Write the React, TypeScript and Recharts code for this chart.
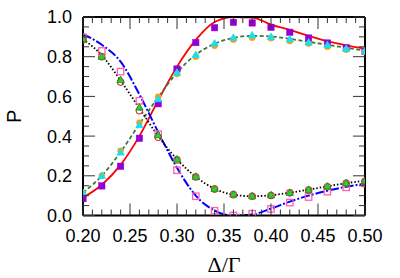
import { ComposedChart, Line, Scatter, XAxis, YAxis } from "recharts";

// detuning grid (Δ/Γ)
const xs = [0.2, 0.22, 0.24, 0.26, 0.28, 0.3, 0.32, 0.34, 0.36, 0.38, 0.4, 0.42, 0.44, 0.46, 0.48, 0.5];

// curves
const redLine = [0.09, 0.155, 0.255, 0.4, 0.58, 0.75, 0.885, 0.975, 1.0, 0.997, 0.962, 0.935, 0.905, 0.878, 0.857, 0.84];
const blueLine = [0.913, 0.86, 0.775, 0.61, 0.42, 0.24, 0.1, 0.025, 0.0, 0.005, 0.035, 0.07, 0.1, 0.125, 0.145, 0.16];
const greenLine = [0.115, 0.2, 0.32, 0.46, 0.595, 0.72, 0.81, 0.865, 0.895, 0.905, 0.902, 0.89, 0.875, 0.86, 0.845, 0.83];
const blackLine = [0.888, 0.807, 0.68, 0.54, 0.4, 0.283, 0.195, 0.135, 0.105, 0.097, 0.102, 0.115, 0.13, 0.147, 0.163, 0.175];

// markers
const purpleSq = [0.085, 0.149, 0.248, 0.389, 0.563, 0.738, 0.871, 0.946, 0.973, 0.97, 0.948, 0.923, 0.894, 0.869, 0.845, 0.827];
const pinkSq = [0.898, 0.829, 0.725, 0.578, 0.41, 0.228, 0.097, 0.024, 0.0, 0.009, 0.033, 0.065, 0.093, 0.12, 0.142, 0.162];
const orangeCirc = [0.112, 0.2, 0.327, 0.468, 0.598, 0.713, 0.8, 0.855, 0.886, 0.896, 0.893, 0.879, 0.866, 0.85, 0.835, 0.825];
const cyanTri = [0.115, 0.2, 0.318, 0.456, 0.587, 0.72, 0.809, 0.867, 0.896, 0.908, 0.9, 0.888, 0.872, 0.859, 0.84, 0.83];
const redCirc = [0.885, 0.8, 0.672, 0.528, 0.394, 0.28, 0.194, 0.133, 0.105, 0.097, 0.101, 0.114, 0.128, 0.145, 0.162, 0.172];
const greenTri = [0.89, 0.8, 0.683, 0.545, 0.405, 0.283, 0.196, 0.135, 0.107, 0.098, 0.103, 0.115, 0.13, 0.147, 0.164, 0.174];

const xTicks = [
  0.2, 0.21, 0.22, 0.23, 0.24, 0.25, 0.26, 0.27, 0.28, 0.29, 0.3, 0.31, 0.32, 0.33, 0.34, 0.35,
  0.36, 0.37, 0.38, 0.39, 0.4, 0.41, 0.42, 0.43, 0.44, 0.45, 0.46, 0.47, 0.48, 0.49, 0.5,
];
const yTicks = [
  0, 0.05, 0.1, 0.15, 0.2, 0.25, 0.3, 0.35, 0.4, 0.45, 0.5, 0.55, 0.6, 0.65, 0.7, 0.75, 0.8, 0.85, 0.9, 0.95, 1.0,
];

const data = xs.map((x, i) => ({
  x,
  red: redLine[i],
  blue: blueLine[i],
  green: greenLine[i],
  black: blackLine[i],
  purple: purpleSq[i],
  pink: pinkSq[i],
  orange: orangeCirc[i],
  cyan: cyanTri[i],
  redc: redCirc[i],
  greent: greenTri[i],
}));

const FONT = "'Liberation Sans', Arial, sans-serif";
const TICK = "#333";
const isMajorX = (v: number) => Math.abs(v * 20 - Math.round(v * 20)) < 1e-6;
const isMajorY = (v: number) => Math.abs(v * 5 - Math.round(v * 5)) < 1e-6;

const BottomTick = ({ x, y, payload }: any) => {
  const major = isMajorX(payload.value);
  return (
    <g>
      <line x1={x} x2={x} y1={y} y2={y - (major ? 12 : 6)} stroke={TICK} />
      {major && (
        <text x={x} y={y + 26} textAnchor="middle" fontSize={18} fontFamily={FONT} fill="#000">
          {payload.value.toFixed(2)}
        </text>
      )}
    </g>
  );
};

const TopTick = ({ x, y, payload }: any) => {
  const major = isMajorX(payload.value);
  return <line x1={x} x2={x} y1={y} y2={y + (major ? 12 : 6)} stroke={TICK} />;
};

const LeftTick = ({ x, y, payload }: any) => {
  const major = isMajorY(payload.value);
  return (
    <g>
      <line x1={x} x2={x + (major ? 12 : 6)} y1={y} y2={y} stroke={TICK} />
      {major && (
        <text x={x - 11} y={y} dy="0.36em" textAnchor="end" fontSize={18} fontFamily={FONT} fill="#000">
          {payload.value.toFixed(1)}
        </text>
      )}
    </g>
  );
};

const RightTick = ({ x, y, payload }: any) => {
  const major = isMajorY(payload.value);
  return <line x1={x} x2={x - (major ? 12 : 6)} y1={y} y2={y} stroke={TICK} />;
};

const FilledSquare = (color: string) => (p: any) =>
  <rect x={p.cx - 3.2} y={p.cy - 3.2} width={6.4} height={6.4} fill={color} stroke={color} strokeWidth={0.5} />;
const OpenSquare = (color: string) => (p: any) =>
  <rect x={p.cx - 3.2} y={p.cy - 3.2} width={6.4} height={6.4} fill="none" stroke={color} strokeWidth={1.3} />;
const FilledCircle = (color: string) => (p: any) => <circle cx={p.cx} cy={p.cy} r={3.2} fill={color} />;
const OpenCircle = (color: string) => (p: any) =>
  <circle cx={p.cx} cy={p.cy} r={3.2} fill="none" stroke={color} strokeWidth={1.2} />;
const Triangle = (color: string, edge: string) => (p: any) =>
  (
    <polygon
      points={`${p.cx},${p.cy - 3.8} ${p.cx - 3.6},${p.cy + 2.7} ${p.cx + 3.6},${p.cy + 2.7}`}
      fill={color}
      stroke={edge}
      strokeWidth={0.8}
    />
  );

export default function App() {
  return (
    <div style={{ position: "absolute", left: 0, top: 0, width: 400, height: 278, background: "#fff" }}>
      <ComposedChart width={400} height={278} data={data} margin={{ top: 0, right: 0, bottom: 0, left: 0 }}>
        <XAxis
          dataKey="x"
          type="number"
          domain={[0.2, 0.5]}
          allowDataOverflow
          ticks={xTicks}
          interval={0}
          tickSize={0}
          tickMargin={0}
          height={62.5}
          axisLine={{ stroke: "#000", strokeWidth: 2 }}
          tick={<BottomTick />}
          label={{
            value: "Δ/Γ",
            position: "insideBottom",
            offset: 6,
            style: { fontFamily: "'Liberation Serif', 'Times New Roman', serif", fontSize: 22, fill: "#000" },
          }}
        />
        <XAxis
          xAxisId="top"
          orientation="top"
          dataKey="x"
          type="number"
          domain={[0.2, 0.5]}
          allowDataOverflow
          ticks={xTicks}
          interval={0}
          tickSize={0}
          tickMargin={0}
          height={17}
          axisLine={{ stroke: "#000", strokeWidth: 2 }}
          tick={<TopTick />}
        />
        <YAxis
          type="number"
          domain={[0, 1]}
          allowDataOverflow
          ticks={yTicks}
          interval={0}
          tickSize={0}
          tickMargin={0}
          width={83}
          axisLine={{ stroke: "#000", strokeWidth: 2 }}
          tick={<LeftTick />}
          label={{
            content: ({ viewBox }: any) => {
              const cx = viewBox.x + 14;
              const cy = viewBox.y + viewBox.height / 2;
              return (
                <text
                  x={cx}
                  y={cy}
                  dy="0.36em"
                  textAnchor="middle"
                  transform={`rotate(-90 ${cx} ${cy})`}
                  fontSize={20}
                  fontFamily={FONT}
                  fill="#000"
                >
                  P
                </text>
              );
            },
          }}
        />
        <YAxis
          yAxisId="right"
          orientation="right"
          type="number"
          domain={[0, 1]}
          allowDataOverflow
          ticks={yTicks}
          interval={0}
          tickSize={0}
          tickMargin={0}
          width={35}
          axisLine={{ stroke: "#000", strokeWidth: 2 }}
          tick={<RightTick />}
        />

        <Line dataKey="red" type="monotone" stroke="#ff0000" strokeWidth={1.8} dot={false} isAnimationActive={false} />
        <Line
          dataKey="blue"
          type="monotone"
          stroke="#0000ff"
          strokeWidth={2}
          strokeDasharray="9 2 2 2"
          dot={false}
          isAnimationActive={false}
        />
        <Line
          dataKey="green"
          type="monotone"
          stroke="#3c7a3c"
          strokeWidth={1.8}
          strokeDasharray="4 2.5"
          dot={false}
          isAnimationActive={false}
        />
        <Line
          dataKey="black"
          type="monotone"
          stroke="#000"
          strokeWidth={1.8}
          strokeDasharray="1.5 2"
          dot={false}
          isAnimationActive={false}
        />

        <Scatter dataKey="purple" shape={FilledSquare("#9400d3")} isAnimationActive={false} />
        <Scatter dataKey="pink" shape={OpenSquare("#ff5fb4")} isAnimationActive={false} />
        <Scatter dataKey="orange" shape={FilledCircle("#ff9a1a")} isAnimationActive={false} />
        <Scatter dataKey="cyan" shape={Triangle("#16e0ea", "#16e0ea")} isAnimationActive={false} />
        <Scatter dataKey="redc" shape={OpenCircle("#cc3b3b")} isAnimationActive={false} />
        <Scatter dataKey="greent" shape={Triangle("#2ed12e", "#1b8a1b")} isAnimationActive={false} />
      </ComposedChart>
    </div>
  );
}
